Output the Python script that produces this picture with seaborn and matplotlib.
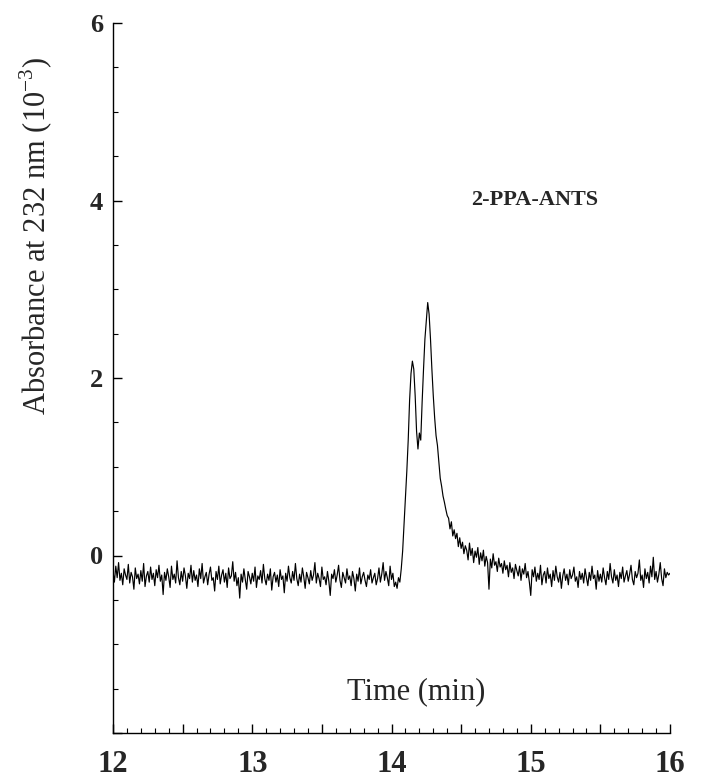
import numpy as np
import pandas as pd
import matplotlib
matplotlib.use("Agg")
import matplotlib.pyplot as plt
import seaborn as sns
from matplotlib.ticker import MultipleLocator, FuncFormatter

# ---- data (one value every 0.01 min from 12.00 to 16.00) ----
t_start = 12.0
t_step = 0.01
absorbance = [
    -0.18,-0.30,-0.12,-0.25,-0.08,-0.28,-0.20,-0.33,-0.15,-0.22,
    -0.27,-0.10,-0.31,-0.19,-0.24,-0.38,-0.14,-0.26,-0.21,-0.32,
    -0.17,-0.29,-0.09,-0.35,-0.23,-0.18,-0.30,-0.13,-0.27,-0.20,
    -0.34,-0.16,-0.25,-0.11,-0.29,-0.22,-0.44,-0.19,-0.28,-0.15,
    -0.24,-0.36,-0.12,-0.27,-0.21,-0.31,-0.06,-0.25,-0.33,-0.18,
    -0.29,-0.14,-0.23,-0.37,-0.20,-0.26,-0.11,-0.30,-0.17,-0.28,
    -0.22,-0.35,-0.15,-0.26,-0.09,-0.31,-0.24,-0.19,-0.33,-0.21,
    -0.13,-0.28,-0.25,-0.40,-0.18,-0.27,-0.12,-0.32,-0.22,-0.16,
    -0.30,-0.20,-0.36,-0.14,-0.26,-0.23,-0.07,-0.29,-0.19,-0.34,
    -0.25,-0.48,-0.21,-0.30,-0.15,-0.27,-0.38,-0.18,-0.24,-0.32,
    -0.20,-0.29,-0.13,-0.36,-0.23,-0.27,-0.17,-0.31,-0.10,-0.26,
    -0.33,-0.21,-0.28,-0.15,-0.39,-0.24,-0.19,-0.30,-0.22,-0.35,
    -0.16,-0.27,-0.23,-0.42,-0.20,-0.29,-0.12,-0.25,-0.31,-0.18,
    -0.28,-0.09,-0.26,-0.34,-0.21,-0.30,-0.14,-0.24,-0.37,-0.19,
    -0.25,-0.32,-0.17,-0.28,-0.22,-0.08,-0.31,-0.20,-0.26,-0.35,
    -0.13,-0.27,-0.24,-0.33,-0.18,-0.29,-0.45,-0.21,-0.26,-0.16,
    -0.30,-0.22,-0.11,-0.28,-0.36,-0.19,-0.25,-0.31,-0.15,-0.27,
    -0.23,-0.34,-0.18,-0.26,-0.40,-0.21,-0.29,-0.14,-0.32,-0.24,
    -0.19,-0.28,-0.35,-0.22,-0.27,-0.16,-0.31,-0.25,-0.20,-0.33,
    -0.26,-0.14,-0.30,-0.21,-0.08,-0.28,-0.18,-0.25,-0.34,-0.12,
    -0.27,-0.20,-0.35,-0.30,-0.37,-0.25,-0.30,-0.15,0.05,0.35,
    0.67,0.95,1.30,1.75,2.05,2.19,2.10,1.80,1.40,1.20,
    1.38,1.30,1.73,2.10,2.44,2.65,2.85,2.72,2.44,2.10,
    1.80,1.55,1.35,1.24,1.05,0.87,0.78,0.67,0.60,0.52,
    0.45,0.42,0.30,0.38,0.22,0.29,0.19,0.25,0.10,0.20,
    0.08,0.15,0.02,0.11,0.06,-0.05,0.14,0.00,0.08,-0.08,
    0.05,-0.02,0.09,-0.10,0.03,-0.06,0.06,-0.12,-0.01,-0.08,
    -0.38,-0.04,-0.14,0.02,-0.11,-0.07,-0.18,-0.03,-0.13,-0.09,
    -0.20,-0.06,-0.16,-0.11,-0.24,-0.08,-0.19,-0.14,-0.26,-0.10,
    -0.17,-0.23,-0.12,-0.28,-0.15,-0.21,-0.09,-0.25,-0.18,-0.30,
    -0.45,-0.16,-0.24,-0.13,-0.29,-0.20,-0.27,-0.11,-0.33,-0.22,
    -0.18,-0.31,-0.14,-0.26,-0.21,-0.35,-0.17,-0.28,-0.12,-0.24,
    -0.30,-0.19,-0.37,-0.23,-0.15,-0.28,-0.21,-0.33,-0.16,-0.26,
    -0.22,-0.13,-0.29,-0.24,-0.36,-0.18,-0.27,-0.20,-0.31,-0.15,
    -0.25,-0.34,-0.19,-0.28,-0.12,-0.26,-0.22,-0.38,-0.17,-0.29,
    -0.21,-0.30,-0.14,-0.25,-0.33,-0.18,-0.27,-0.09,-0.24,-0.31,
    -0.16,-0.28,-0.22,-0.35,-0.19,-0.26,-0.13,-0.30,-0.23,-0.17,
    -0.29,-0.21,-0.11,-0.27,-0.33,-0.18,-0.25,-0.20,-0.05,-0.28,
    -0.22,-0.36,-0.15,-0.26,-0.19,-0.31,-0.12,-0.24,-0.02,-0.27,
    -0.18,-0.30,-0.21,-0.08,-0.26,-0.34,-0.15,-0.25,-0.19,-0.22,
    -0.20,
]
x_ticks = [12, 13, 14, 15, 16]
y_ticks = [0, 2, 4, 6]
sample_label = "2-PPA-ANTS"
x_label = "Time (min)"
y_label = "Absorbance at 232 nm (10$^{-3}$)"

time = [round(t_start + i * t_step, 2) for i in range(len(absorbance))]
df = pd.DataFrame({"time": time, "absorbance": absorbance})

# ---- style ----
sns.set_style("ticks")
plt.rcParams["font.family"] = ["Liberation Serif", "DejaVu Serif"]
plt.rcParams["mathtext.fontset"] = "custom"
plt.rcParams["mathtext.rm"] = "Liberation Serif"

fig = plt.figure(figsize=(7.01, 7.80), dpi=100)
ax = fig.add_axes([113 / 701, 1 - 733 / 780, (670 - 113) / 701, (733 - 23) / 780])

sns.lineplot(data=df, x="time", y="absorbance", ax=ax, color="black",
             linewidth=0.85, estimator=None, sort=False)

ax.set_xlim(12, 16)
ax.set_ylim(-2, 6)
ax.set_xlabel("")
ax.set_ylabel("")

for side in ("top", "right"):
    ax.spines[side].set_visible(False)
for side in ("left", "bottom"):
    ax.spines[side].set_linewidth(1.0)
    ax.spines[side].set_color("black")

ax.xaxis.set_major_locator(MultipleLocator(0.5))
ax.xaxis.set_minor_locator(MultipleLocator(0.1))
ax.xaxis.set_major_formatter(FuncFormatter(
    lambda v, p: f"{int(round(v))}" if abs(v - round(v)) < 1e-6 and int(round(v)) in x_ticks else ""))
ax.yaxis.set_major_locator(MultipleLocator(2))
ax.yaxis.set_minor_locator(MultipleLocator(0.5))
ax.yaxis.set_major_formatter(FuncFormatter(
    lambda v, p: f"{int(round(v))}" if int(round(v)) in y_ticks else ""))

ax.tick_params(axis="both", which="major", direction="in", length=6.5, width=1.0, color="black")
ax.tick_params(axis="both", which="minor", direction="in", length=3.5, width=0.8, color="black")
ax.tick_params(axis="x", which="major", pad=12, labelsize=22)
ax.tick_params(axis="y", which="major", pad=7, labelsize=19)
for lab in ax.get_xticklabels() + ax.get_yticklabels():
    lab.set_fontweight("bold")

ax.text(0.545, 0.058, x_label, transform=ax.transAxes, ha="center", va="center",
        fontsize=22)
fig.text(535 / 701, 1 - 200 / 780, sample_label, ha="center", va="center",
         fontsize=16, fontweight="bold")
fig.text(36 / 701, 1 - 236 / 780, y_label, rotation=90, ha="center", va="center",
         fontsize=22)

fig.savefig("out.png", dpi=100)
